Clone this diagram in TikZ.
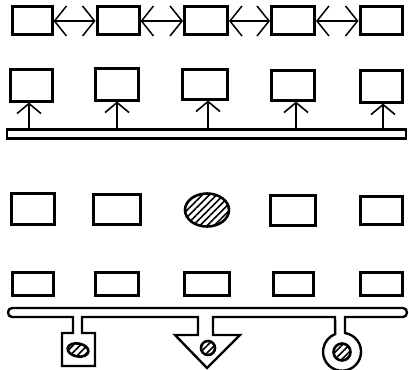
\documentclass[tikz,border=0pt]{standalone}
\usetikzlibrary{arrows.meta,patterns.meta,shapes.geometric}
\begin{document}
\begin{tikzpicture}[x=1pt,y=-1pt,
  blk/.style={draw,line width=3pt,inner sep=0pt,minimum width=#1,minimum height=30pt},
  blk/.default=43pt,
  barb/.style={Straight Barb[length=12pt,width=30pt,line width=1.5pt]},
  link/.style={line width=1.5pt,{Straight Barb[length=12pt,width=30pt,line width=1.5pt]}-{Straight Barb[length=12pt,width=30pt,line width=1.5pt]}},
  feed/.style={line width=1.5pt,-{Straight Barb[length=10pt,width=24pt,line width=1.6pt]}},
  bus/.style={line width=2.4pt},
  hatch/.style={draw,line width=2.6pt,pattern={Lines[angle=45,distance=5pt,line width=1.6pt]}}]
\useasboundingbox (0,0) rectangle (409,369);
\clip (0,0) rectangle (409,369);
% row 1
\node[blk=40pt,minimum height=28pt] (a1) at (32,21) {};
\node[blk=42pt,minimum height=28pt] (a2) at (118,21) {};
\node[blk=43pt,minimum height=28pt] (a3) at (206,21) {};
\node[blk=43pt,minimum height=28pt] (a4) at (293,21) {};
\node[blk=42pt,minimum height=28pt] (a5) at (381,21) {};
\draw[link] (a1.east) -- (a2.west);
\draw[link] (a2.east) -- (a3.west);
\draw[link] (a3.east) -- (a4.west);
\draw[link] (a4.east) -- (a5.west);
% row 2
\node[blk=42pt,minimum height=32pt] (b1) at (31,85) {};
\node[blk=43pt,minimum height=32pt] (b2) at (117,84) {};
\node[blk=45pt,minimum height=30pt] (b3) at (205,84) {};
\node[blk=43pt,minimum height=30pt] (b4) at (293,85) {};
\node[blk=42pt,minimum height=32pt] (b5) at (381,86) {};
\draw[bus] (7,129.5) rectangle (406,138.5);
\coordinate (q1) at (29,129.5);
\coordinate (q2) at (117,129.5);
\coordinate (q3) at (208,129.5);
\coordinate (q4) at (296,129.5);
\coordinate (q5) at (383,129.5);
\draw[feed] (q1) -- (q1 |- b1.south);
\draw[feed] (q2) -- (q2 |- b2.south);
\draw[feed] (q3) -- (q3 |- b3.south);
\draw[feed] (q4) -- (q4 |- b4.south);
\draw[feed] (q5) -- (q5 |- b5.south);
% row 3
\node[blk=43pt,minimum height=31pt] (c1) at (33,209) {};
\node[blk=47pt,minimum height=30pt] (c2) at (117,209) {};
\node[ellipse,hatch,minimum width=44pt,minimum height=33pt,inner sep=0pt] (c3) at (207,210) {};
\node[blk=45pt,minimum height=30pt] (c4) at (293,210) {};
\node[blk=42pt,minimum height=28pt] (c5) at (381,210) {};
% row 4
\node[blk=41pt,minimum height=23pt] (d1) at (33,283.5) {};
\node[blk=43pt,minimum height=23pt] (d2) at (117,283.5) {};
\node[blk=45pt,minimum height=23pt] (d3) at (207,283.5) {};
\node[blk=40pt,minimum height=23pt] (d4) at (293,283.5) {};
\node[blk=42pt,minimum height=23pt] (d5) at (381,283.5) {};
% bus with attached devices
\draw[bus,line join=miter]
  (12,308) -- (403,308) to[out=0,in=0,looseness=1.5] (403,317)
  -- (345,317) -- (345,333)
  arc[start angle=-81,end angle=249,radius=19]
  -- (335,317) -- (213,317) -- (213,335) -- (240,335) -- (207,368)
  -- (175,335) -- (198,335) -- (198,317) -- (82,317) -- (82,333)
  -- (95,333) -- (95,366) -- (62,366) -- (62,333) -- (73,333)
  -- (73,317) -- (12,317) to[out=180,in=180,looseness=1.5] cycle;
\node[ellipse,hatch,minimum width=21pt,minimum height=13pt,inner sep=0pt,rotate=-10] (e1) at (78,350) {};
\node[circle,hatch,minimum size=14pt,inner sep=0pt] (e2) at (208,348) {};
\node[circle,hatch,minimum size=17pt,inner sep=0pt] (e3) at (342,352) {};
\end{tikzpicture}
\end{document}
